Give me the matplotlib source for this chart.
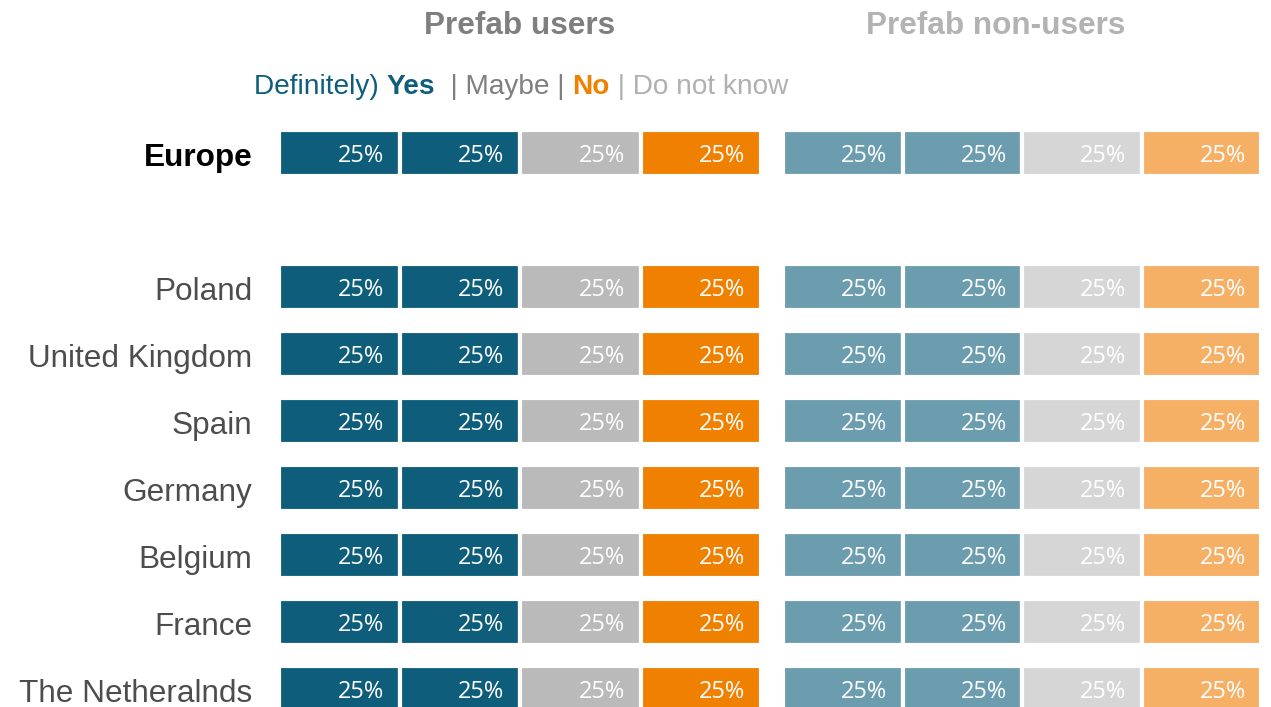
import matplotlib.pyplot as plt

# Данные: страны и доли ответов (в процентах)
countries = ['Europe', 'Poland', 'United Kingdom', 'Spain', 'Germany',
             'Belgium', 'France', 'The Netheralnds']
positions = [0, 2, 3, 4, 5, 6, 7, 8]

users_def_yes = [25, 25, 25, 25, 25, 25, 25, 25]
users_yes = [25, 25, 25, 25, 25, 25, 25, 25]
users_maybe = [25, 25, 25, 25, 25, 25, 25, 25]
users_no = [25, 25, 25, 25, 25, 25, 25, 25]

nonusers_def_yes = [25, 25, 25, 25, 25, 25, 25, 25]
nonusers_yes = [25, 25, 25, 25, 25, 25, 25, 25]
nonusers_maybe = [25, 25, 25, 25, 25, 25, 25, 25]
nonusers_no = [25, 25, 25, 25, 25, 25, 25, 25]

teal = '#0e5e7b'
grey = '#bababa'
orange = '#f08000'
teal_light = '#6b9daf'
grey_light = '#d6d6d6'
orange_light = '#f5b066'

fig = plt.figure(figsize=(12.71, 7.07), dpi=100)
W, H = 1271, 707

ylim = (8.27, -0.49)
ax_l = fig.add_axes([279 / W, 0, 482 / W, 587 / H])
ax_r = fig.add_axes([783 / W, 0, 478 / W, 587 / H])


def draw_stack(ax, series, colors):
    left = [0] * len(positions)
    for vals, col in zip(series, colors):
        ax.barh(positions, vals, left=left, height=0.69, color=col,
                edgecolor='white', linewidth=3)
        for y, l, v in zip(positions, left, vals):
            ax.text(l + v - 3.2, y + 0.04, f'{v}%', ha='right', va='center',
                    color='white', fontsize=17, family='Open Sans')
        left = [a + b for a, b in zip(left, vals)]
    ax.set_xlim(0, 100)
    ax.set_ylim(*ylim)
    ax.axis('off')


draw_stack(ax_l, [users_def_yes, users_yes, users_maybe, users_no],
           [teal, teal, grey, orange])
draw_stack(ax_r, [nonusers_def_yes, nonusers_yes, nonusers_maybe, nonusers_no],
           [teal_light, teal_light, grey_light, orange_light])

# Подписи стран слева
for name, y in zip(countries, positions):
    if name == 'Europe':
        ax_l.text(-0.055, y + 0.02, name, transform=ax_l.get_yaxis_transform(),
                  ha='right', va='center_baseline', fontsize=22.7,
                  fontweight='bold', color='black', family='Liberation Sans')
    else:
        ax_l.text(-0.055, y + 0.03, name, transform=ax_l.get_yaxis_transform(),
                  ha='right', va='center_baseline', fontsize=22.7,
                  color='#4d4d4d', family='Liberation Sans')

# Заголовки групп
fig.text(520 / W, 1 - 26 / H, 'Prefab users', ha='center', va='center',
         fontsize=22.7, fontweight='bold', color='#7f7f7f', family='Liberation Sans')
fig.text(996 / W, 1 - 26 / H, 'Prefab non-users', ha='center', va='center',
         fontsize=22.7, fontweight='bold', color='#b3b3b3', family='Liberation Sans')

# Легенда из цветных кусков текста
parts = [('Definitely) ', teal, 'normal'),
         ('Yes', teal, 'bold'),
         ('  | Maybe | ', '#7f7f7f', 'normal'),
         ('No', orange, 'bold'),
         (' | Do not know', '#b0b0b0', 'normal')]
last = None
for s, col, w in parts:
    kw = dict(fontsize=20.2, color=col, fontweight=w, family='Liberation Sans')
    if last is None:
        last = fig.text(254 / W, 1 - 87 / H, s, ha='left', va='center', **kw)
    else:
        last = ax_l.annotate(s, xy=(1, 0), xycoords=last, ha='left',
                             va='bottom', **kw)

fig.savefig('out.png', dpi=100)
